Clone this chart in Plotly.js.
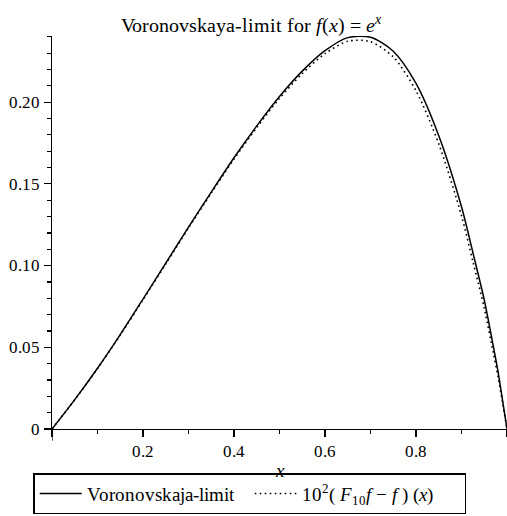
<!DOCTYPE html>
<html>
<head>
<meta charset="utf-8">
<script src="https://cdn.plot.ly/plotly-3.0.1.min.js"></script>
<style>
@font-face { font-family: 'SerifLocal'; font-style: normal; font-weight: 400;
  src: local('Liberation Serif'), local('LiberationSerif'), local('Liberation Serif Regular'), local('LiberationSerif-Regular'), local('DejaVu Serif'), local('DejaVuSerif'); }
@font-face { font-family: 'SerifLocal'; font-style: italic; font-weight: 400;
  src: local('Liberation Serif Italic'), local('LiberationSerif-Italic'), local('DejaVu Serif Italic'), local('DejaVuSerif-Italic'); }
html,body{margin:0;padding:0;background:#fff}#chart{width:507px;height:516px}
</style>
</head>
<body>
<div id="chart"></div>
<script>
// data
const xValues = [0, 0.05, 0.1, 0.15, 0.2, 0.25, 0.3, 0.35, 0.4, 0.45, 0.5, 0.55, 0.6, 0.65, 0.7, 0.75, 0.8, 0.85, 0.9, 0.925, 0.95, 0.97, 0.98, 0.99, 1.0];
const voronovskajaLimit = [0, 0.0180, 0.0372, 0.0578, 0.0795, 0.1015, 0.1235, 0.1450, 0.1660, 0.1855, 0.2035, 0.2190, 0.2315, 0.2395, 0.2397, 0.2312, 0.2115, 0.1795, 0.1360, 0.1080, 0.0790, 0.0505, 0.0355, 0.0180, 0];
const operatorDifference = [0, 0.0179, 0.0370, 0.0575, 0.0791, 0.1010, 0.1230, 0.1444, 0.1652, 0.1845, 0.2023, 0.2175, 0.2297, 0.2373, 0.2370, 0.2277, 0.2070, 0.1745, 0.1305, 0.1025, 0.0740, 0.0465, 0.0325, 0.0165, 0];
const yTickVals = [0, 0.05, 0.10, 0.15, 0.20];
const yTickText = ['0', '0.05', '0.10', '0.15', '0.20'];
const xTickVals = [0, 0.2, 0.4, 0.6, 0.8, 1];
const xTickText = ['', '0.2', '0.4', '0.6', '0.8', '1'];
const xMinorTicks = [0.1, 0.3, 0.5, 0.7, 0.9];
const seriesNames = ['Voronovskaja-limit', '10<sup>2</sup>( <i>F</i><sub>10</sub><i>f</i> \u2212 <i>f</i> ) (<i>x</i>)'];

const FONT = 'SerifLocal';

const traces = [
  {x: xValues, y: voronovskajaLimit, type: 'scatter', mode: 'lines', name: seriesNames[0],
   line: {color: '#000', width: 1.5, shape: 'spline', smoothing: 0.8}},
  {x: xValues, y: operatorDifference, type: 'scatter', mode: 'lines', name: seriesNames[1],
   line: {color: '#000', width: 1.6, dash: '1.6px,3.4px', shape: 'spline', smoothing: 0.8}}
];

const layout = {
  width: 507, height: 516,
  margin: {l: 52, r: 0, t: 36, b: 87},
  paper_bgcolor: '#fff', plot_bgcolor: '#fff',
  font: {family: FONT, size: 16, color: '#000'},
  title: {text: 'Voronovskaya-limit for <i>f</i>(<i>x</i>) = <i>e</i><sup><i>x</i></sup>',
          font: {family: FONT, size: 20, color: '#000'}, x: 0.495, xref: 'container', xanchor: 'center',
          y: 0.965, yref: 'container', yanchor: 'top'},
  showlegend: true,
  legend: {orientation: 'h', x: 0.435, xanchor: 'center', y: -0.113, yanchor: 'top',
           bordercolor: '#000', borderwidth: 1.3, font: {family: FONT, size: 19, color: '#000'},
           bgcolor: '#fff', itemwidth: 42, tracegroupgap: 0, entrywidth: 158},
  xaxis: {range: [0, 1], showgrid: false, zeroline: false, showline: true, linecolor: '#000', linewidth: 1.3,
          tickmode: 'array', tickvals: xTickVals, ticktext: xTickText, ticks: 'outside', ticklen: 7, tickwidth: 1.2,
          tickcolor: '#000', tickfont: {family: FONT, size: 16.5, color: '#000'},
          minor: {tickmode: 'array', tickvals: xMinorTicks, ticks: 'outside', ticklen: 4, tickwidth: 1.2, tickcolor: '#000', showgrid: false},
          title: {text: '<i>x</i>', font: {family: FONT, size: 19, color: '#000'}, standoff: 3},
          automargin: false, fixedrange: true},
  yaxis: {range: [0, 0.2405], showgrid: false, zeroline: false, showline: true, linecolor: '#000', linewidth: 1.3,
          tickmode: 'array', tickvals: yTickVals, ticktext: yTickText, ticks: 'outside', ticklen: 7, tickwidth: 1.2,
          tickcolor: '#000', tickfont: {family: FONT, size: 16.5, color: '#000'},
          minor: {dtick: 0.01, tick0: 0, ticks: 'outside', ticklen: 4, tickwidth: 1.2, tickcolor: '#000', showgrid: false},
          automargin: false, fixedrange: true},
  shapes: [{type: 'line', xref: 'x', yref: 'paper', x0: 0, x1: 0, y0: 0, y1: -0.03, line: {color: '#000', width: 1.3}}]
};

Plotly.newPlot('chart', traces, layout, {staticPlot: true, displayModeBar: false});
</script>
</body>
</html>
